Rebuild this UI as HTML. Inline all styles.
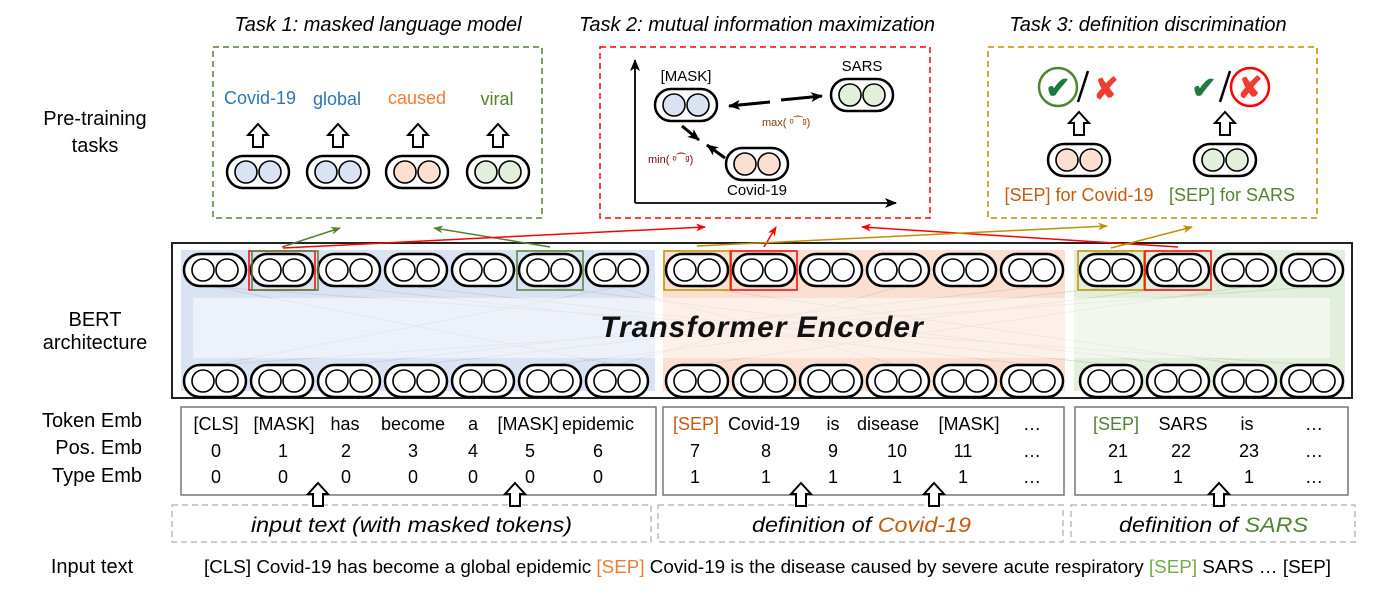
<!DOCTYPE html>
<html><head><meta charset="utf-8"><style>
body{margin:0;background:#fff}
svg{display:block}
text{font-family:"Liberation Sans",sans-serif}
</style></head><body>
<svg width="1379" height="601" viewBox="0 0 1379 601" xmlns="http://www.w3.org/2000/svg">
<defs>
<g id="pw"><rect x="-31" y="-16" width="62" height="32" rx="16" fill="#fff" stroke="#000" stroke-width="2.5"/><circle cx="-12" cy="0" r="11" fill="#fff" stroke="#000" stroke-width="1.6"/><circle cx="12" cy="0" r="11" fill="#fff" stroke="#000" stroke-width="1.6"/></g>
<g id="pb"><rect x="-31" y="-16" width="62" height="32" rx="16" fill="#fff" stroke="#000" stroke-width="2.5"/><circle cx="-12" cy="0" r="11" fill="#dae3f3" stroke="#000" stroke-width="1.6"/><circle cx="12" cy="0" r="11" fill="#dae3f3" stroke="#000" stroke-width="1.6"/></g>
<g id="po"><rect x="-31" y="-16" width="62" height="32" rx="16" fill="#fff" stroke="#000" stroke-width="2.5"/><circle cx="-12" cy="0" r="11" fill="#fbe0d2" stroke="#000" stroke-width="1.6"/><circle cx="12" cy="0" r="11" fill="#fbe0d2" stroke="#000" stroke-width="1.6"/></g>
<g id="pg"><rect x="-31" y="-16" width="62" height="32" rx="16" fill="#fff" stroke="#000" stroke-width="2.5"/><circle cx="-12" cy="0" r="11" fill="#e2efda" stroke="#000" stroke-width="1.6"/><circle cx="12" cy="0" r="11" fill="#e2efda" stroke="#000" stroke-width="1.6"/></g>
<path id="up" d="M0,0 L10,11 L5,11 L5,23 L-5,23 L-5,11 L-10,11 Z" fill="#fff" stroke="#000" stroke-width="2"/>
<marker id="ag" markerWidth="10" markerHeight="8" refX="9" refY="4" orient="auto" markerUnits="userSpaceOnUse"><path d="M0,0 L10,4 L0,8 L3,4Z" fill="#548235"/></marker>
<marker id="ar" markerWidth="10" markerHeight="8" refX="9" refY="4" orient="auto" markerUnits="userSpaceOnUse"><path d="M0,0 L10,4 L0,8 L3,4Z" fill="#f00"/></marker>
<marker id="ay" markerWidth="10" markerHeight="8" refX="9" refY="4" orient="auto" markerUnits="userSpaceOnUse"><path d="M0,0 L10,4 L0,8 L3,4Z" fill="#bf9000"/></marker>
<marker id="ak" markerWidth="12" markerHeight="10" refX="11" refY="5" orient="auto" markerUnits="userSpaceOnUse"><path d="M0,0 L12,5 L0,10 L3,5Z" fill="#000"/></marker>
</defs>

<g font-size="20" fill="#000" text-anchor="middle">
<text x="95" y="125">Pre-training</text><text x="95" y="152">tasks</text>
<text x="95" y="326">BERT</text><text x="95" y="349">architecture</text>
</g>
<g font-size="20" text-anchor="end">
<text x="142" y="427">Token Emb</text><text x="142" y="454">Pos. Emb</text><text x="142" y="482">Type Emb</text>
</g>
<text x="92" y="573" font-size="20" text-anchor="middle">Input text</text>

<g font-size="20" font-style="italic" text-anchor="middle">
<text x="378" y="31">Task 1: masked language model</text>
<text x="757" y="31">Task 2: mutual information maximization</text>
<text x="1148" y="31">Task 3: definition discrimination</text>
</g>

<rect x="213" y="47" width="329" height="171" fill="none" stroke="#548235" stroke-width="1.5" stroke-dasharray="6,4"/>
<rect x="600" y="47" width="330" height="171" fill="none" stroke="#f00" stroke-width="1.5" stroke-dasharray="6,4"/>
<rect x="988" y="47" width="329" height="171" fill="none" stroke="#bf9000" stroke-width="1.5" stroke-dasharray="6,4"/>

<g font-size="18" text-anchor="middle">
<text x="260" y="104" fill="#2e75b6">Covid-19</text>
<text x="337" y="105" fill="#2e75b6">global</text>
<text x="417" y="104" fill="#ed7d31">caused</text>
<text x="497" y="105" fill="#548235">viral</text>
</g>
<use href="#up" x="258" y="124"/><use href="#up" x="338" y="124"/><use href="#up" x="418" y="124"/><use href="#up" x="498" y="124"/>
<use href="#pb" x="258" y="172"/><use href="#pb" x="338" y="172"/><use href="#po" x="417" y="172"/><use href="#pg" x="498" y="172"/>

<line x1="635" y1="203" x2="635" y2="60" stroke="#000" stroke-width="1.8" marker-end="url(#ak)"/>
<line x1="635" y1="203" x2="896" y2="203" stroke="#000" stroke-width="1.8" marker-end="url(#ak)"/>
<text x="686" y="81" font-size="15" text-anchor="middle">[MASK]</text>
<use href="#pb" x="686" y="105"/>
<text x="862" y="71" font-size="15" text-anchor="middle">SARS</text>
<use href="#pg" x="862" y="95"/>
<use href="#po" x="757" y="164"/>
<text x="757" y="195" font-size="15" text-anchor="middle">Covid-19</text>
<line x1="770" y1="102" x2="729" y2="106" stroke="#000" stroke-width="3" marker-end="url(#ak)"/>
<line x1="781" y1="100" x2="822" y2="96" stroke="#000" stroke-width="3" marker-end="url(#ak)"/>
<line x1="682" y1="126" x2="699" y2="140" stroke="#000" stroke-width="3" marker-end="url(#ak)"/>
<line x1="725" y1="158" x2="707" y2="145" stroke="#000" stroke-width="3" marker-end="url(#ak)"/>
<text x="762" y="126" font-size="11" fill="#7f3f00">max(  ᵒ⁀ᵍ)</text>
<text x="648" y="163" font-size="11" fill="#7f0000">min(  ᵒ⁀ᵍ)</text>

<circle cx="1058" cy="87" r="19" fill="none" stroke="#548235" stroke-width="2.5"/>
<text x="1058" y="98" font-size="30" fill="#1e7a3e" text-anchor="middle" font-weight="bold">✔</text>
<line x1="1088" y1="71" x2="1078" y2="102" stroke="#000" stroke-width="2.5"/>
<text x="1106" y="99" font-size="30" fill="#f03c32" text-anchor="middle" font-weight="bold">✘</text>
<use href="#up" x="1079" y="112"/>
<use href="#po" x="1079" y="160"/>
<text x="1079" y="201" font-size="18" fill="#c55a11" text-anchor="middle">[SEP] for Covid-19</text>
<text x="1204" y="98" font-size="30" fill="#1e7a3e" text-anchor="middle" font-weight="bold">✔</text>
<line x1="1230" y1="71" x2="1220" y2="102" stroke="#000" stroke-width="2.5"/>
<circle cx="1250" cy="87" r="19" fill="none" stroke="#f00" stroke-width="2.5"/>
<text x="1250" y="98" font-size="30" fill="#f03c32" text-anchor="middle" font-weight="bold">✘</text>
<use href="#up" x="1225" y="112"/>
<use href="#pg" x="1225" y="160"/>
<text x="1232" y="201" font-size="18" fill="#548235" text-anchor="middle">[SEP] for SARS</text>

<rect x="172" y="243" width="1180" height="155" fill="#fff" stroke="#222" stroke-width="2"/>
<rect x="181" y="250" width="474" height="141" fill="#dae3f3"/>
<rect x="663" y="250" width="402" height="141" fill="#fbe0d2"/>
<rect x="1074" y="250" width="271" height="141" fill="#e2efda"/>
<g stroke="#bbb" stroke-width="1" opacity="0.45">
<line x1="215" y1="365" x2="1312" y2="287"/><line x1="1312" y1="365" x2="215" y2="287"/>
<line x1="416" y1="365" x2="1111" y2="287"/><line x1="1111" y1="365" x2="416" y2="287"/>
<line x1="617" y1="365" x2="898" y2="287"/><line x1="898" y1="365" x2="617" y2="287"/>
<line x1="215" y1="365" x2="617" y2="287"/><line x1="617" y1="365" x2="215" y2="287"/>
<line x1="697" y1="365" x2="1245" y2="287"/><line x1="1245" y1="365" x2="697" y2="287"/>
<line x1="349" y1="365" x2="1032" y2="287"/><line x1="1032" y1="365" x2="349" y2="287"/>
<line x1="550" y1="365" x2="1178" y2="287"/><line x1="1178" y1="365" x2="550" y2="287"/>
</g>
<rect x="193" y="298" width="1137" height="60" fill="#fff" opacity="0.5"/>
<text x="762" y="337" font-size="30" font-style="italic" font-weight="bold" text-anchor="middle" fill="#111" letter-spacing="1">Transformer Encoder</text>

<use href="#pw" x="215" y="270"/><use href="#pw" x="282" y="270"/><use href="#pw" x="349" y="270"/><use href="#pw" x="416" y="270"/><use href="#pw" x="483" y="270"/><use href="#pw" x="550" y="270"/><use href="#pw" x="617" y="270"/>
<use href="#pw" x="697" y="270"/><use href="#pw" x="764" y="270"/><use href="#pw" x="831" y="270"/><use href="#pw" x="898" y="270"/><use href="#pw" x="965" y="270"/><use href="#pw" x="1032" y="270"/>
<use href="#pw" x="1111" y="270"/><use href="#pw" x="1178" y="270"/><use href="#pw" x="1245" y="270"/><use href="#pw" x="1312" y="270"/>
<use href="#pw" x="215" y="381"/><use href="#pw" x="282" y="381"/><use href="#pw" x="349" y="381"/><use href="#pw" x="416" y="381"/><use href="#pw" x="483" y="381"/><use href="#pw" x="550" y="381"/><use href="#pw" x="617" y="381"/>
<use href="#pw" x="697" y="381"/><use href="#pw" x="764" y="381"/><use href="#pw" x="831" y="381"/><use href="#pw" x="898" y="381"/><use href="#pw" x="965" y="381"/><use href="#pw" x="1032" y="381"/>
<use href="#pw" x="1111" y="381"/><use href="#pw" x="1178" y="381"/><use href="#pw" x="1245" y="381"/><use href="#pw" x="1312" y="381"/>

<rect x="249" y="251" width="66" height="39" fill="none" stroke="#f00" stroke-width="1.5"/>
<rect x="252" y="251" width="66" height="39" fill="none" stroke="#548235" stroke-width="1.5"/>
<rect x="517" y="251" width="66" height="39" fill="none" stroke="#548235" stroke-width="1.5"/>
<rect x="664" y="251" width="66" height="39" fill="none" stroke="#bf9000" stroke-width="1.5"/>
<rect x="731" y="251" width="66" height="39" fill="none" stroke="#f00" stroke-width="1.5"/>
<rect x="1078" y="251" width="66" height="39" fill="none" stroke="#bf9000" stroke-width="1.5"/>
<rect x="1145" y="251" width="66" height="39" fill="none" stroke="#f00" stroke-width="1.5"/>

<line x1="282" y1="247" x2="340" y2="228" stroke="#548235" stroke-width="1.5" marker-end="url(#ag)"/>
<line x1="550" y1="247" x2="434" y2="228" stroke="#548235" stroke-width="1.5" marker-end="url(#ag)"/>
<line x1="283" y1="248" x2="705" y2="227" stroke="#f00" stroke-width="1.5" marker-end="url(#ar)"/>
<line x1="764" y1="247" x2="776" y2="227" stroke="#f00" stroke-width="1.5" marker-end="url(#ar)"/>
<line x1="1178" y1="247" x2="862" y2="227" stroke="#f00" stroke-width="1.5" marker-end="url(#ar)"/>
<line x1="697" y1="246" x2="1107" y2="226" stroke="#bf9000" stroke-width="1.5" marker-end="url(#ay)"/>
<line x1="1111" y1="248" x2="1192" y2="227" stroke="#bf9000" stroke-width="1.5" marker-end="url(#ay)"/>

<rect x="181" y="407" width="475" height="88" fill="#fff" stroke="#777" stroke-width="1.5"/>
<rect x="663" y="407" width="401" height="88" fill="#fff" stroke="#777" stroke-width="1.5"/>
<rect x="1075" y="407" width="273" height="88" fill="#fff" stroke="#777" stroke-width="1.5"/>
<g font-size="18" text-anchor="middle">
<text x="216" y="430">[CLS]</text><text x="284" y="430">[MASK]</text><text x="345" y="430">has</text><text x="413" y="430">become</text><text x="473" y="430">a</text><text x="528" y="430">[MASK]</text><text x="598" y="430">epidemic</text>
<text x="216" y="457">0</text><text x="283" y="457">1</text><text x="346" y="457">2</text><text x="413" y="457">3</text><text x="473" y="457">4</text><text x="530" y="457">5</text><text x="598" y="457">6</text>
<text x="216" y="483">0</text><text x="283" y="483">0</text><text x="346" y="483">0</text><text x="413" y="483">0</text><text x="473" y="483">0</text><text x="530" y="483">0</text><text x="598" y="483">0</text>
<text x="696" y="430" fill="#c55a11">[SEP]</text><text x="764" y="430">Covid-19</text><text x="833" y="430">is</text><text x="888" y="430">disease</text><text x="969" y="430">[MASK]</text><text x="1032" y="430">…</text>
<text x="695" y="457">7</text><text x="766" y="457">8</text><text x="833" y="457">9</text><text x="897" y="457">10</text><text x="963" y="457">11</text><text x="1032" y="457">…</text>
<text x="695" y="483">1</text><text x="766" y="483">1</text><text x="833" y="483">1</text><text x="897" y="483">1</text><text x="963" y="483">1</text><text x="1032" y="483">…</text>
<text x="1116" y="430" fill="#548235">[SEP]</text><text x="1183" y="430">SARS</text><text x="1247" y="430">is</text><text x="1314" y="430">…</text>
<text x="1118" y="457">21</text><text x="1181" y="457">22</text><text x="1249" y="457">23</text><text x="1314" y="457">…</text>
<text x="1118" y="483">1</text><text x="1178" y="483">1</text><text x="1249" y="483">1</text><text x="1314" y="483">…</text>
</g>

<rect x="172" y="505" width="479" height="37" fill="none" stroke="#bbb" stroke-width="1.5" stroke-dasharray="6,4"/>
<rect x="658" y="505" width="405" height="37" fill="none" stroke="#bbb" stroke-width="1.5" stroke-dasharray="6,4"/>
<rect x="1071" y="505" width="284" height="37" fill="none" stroke="#bbb" stroke-width="1.5" stroke-dasharray="6,4"/>
<use href="#up" x="318" y="483"/><use href="#up" x="515" y="483"/><use href="#up" x="801" y="483"/><use href="#up" x="934" y="483"/><use href="#up" x="1219" y="483"/>
<g font-size="21" font-style="italic">
<text x="251" y="532" textLength="321" lengthAdjust="spacingAndGlyphs">input text (with masked tokens)</text>
<text x="752" y="532" textLength="219" lengthAdjust="spacingAndGlyphs">definition of <tspan fill="#c55a11">Covid-19</tspan></text>
<text x="1119" y="532" textLength="189" lengthAdjust="spacingAndGlyphs">definition of <tspan fill="#548235">SARS</tspan></text>
</g>

<text x="204" y="573" font-size="18" textLength="1127" lengthAdjust="spacingAndGlyphs">[CLS] Covid-19 has become a global epidemic <tspan fill="#ed7d31">[SEP]</tspan> Covid-19 is the disease caused by severe acute respiratory <tspan fill="#70ad47">[SEP]</tspan> SARS … [SEP]</text>
</svg>
</body></html>
